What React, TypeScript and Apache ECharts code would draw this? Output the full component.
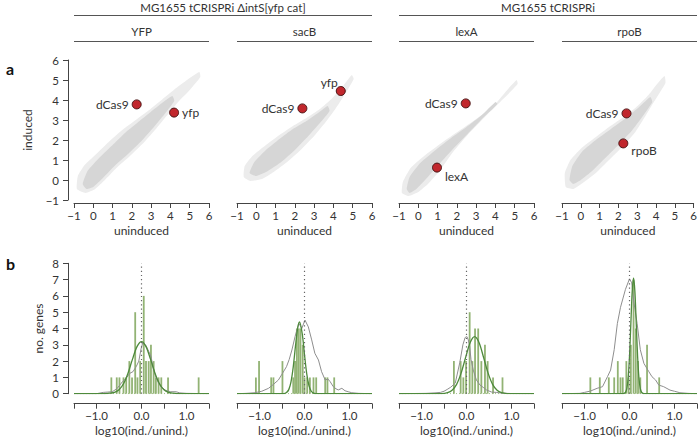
import React, { useEffect, useRef } from 'react';
import * as echarts from 'echarts';

// ---------- text ----------
const strainTitles = ['MG1655 tCRISPRi \u0394intS[yfp cat]', 'MG1655 tCRISPRi'];
const panelTitles = ['YFP', 'sacB', 'lexA', 'rpoB'];
const scatterXName = 'uninduced';
const scatterYName = 'induced';
const histXName = 'log10(ind./unind.)';
const histYName = 'no. genes';

// ---------- panel a : scatter clouds (outline of the grey point cloud, data coords) ----------
const cloudOuterYFP = [[-0.85,-0.45],[-0.8,0.2],[-0.45,0.75],[0.1,1.25],[0.8,1.9],[1.5,2.5],[2.2,3.0],[2.9,3.5],[3.6,4.05],[4.3,4.6],[5.0,5.1],[5.5,5.4],[5.55,5.15],[5.0,4.5],[4.4,3.9],[3.8,3.2],[3.2,2.5],[2.6,1.85],[1.9,1.2],[1.2,0.6],[0.6,0.0],[0.1,-0.45],[-0.4,-0.65]];
const cloudCoreYFP = [[-0.55,-0.2],[-0.3,0.45],[0.3,1.1],[1.0,1.75],[1.7,2.4],[2.4,2.95],[3.1,3.5],[3.7,3.95],[4.1,4.2],[4.2,3.95],[3.7,3.3],[3.1,2.6],[2.5,1.95],[1.8,1.3],[1.1,0.7],[0.5,0.1],[0.0,-0.35],[-0.35,-0.45]];
const cloudOuterSacB = [[-0.65,0.15],[-0.6,0.7],[-0.2,1.2],[0.5,1.75],[1.2,2.25],[1.9,2.7],[2.6,3.1],[3.3,3.55],[3.9,4.05],[4.5,4.7],[4.95,5.25],[5.05,5.05],[4.6,4.3],[4.1,3.55],[3.6,2.9],[3.0,2.2],[2.3,1.5],[1.6,0.9],[0.9,0.4],[0.3,0.05],[-0.3,-0.05]];
const cloudCoreSacB = [[-0.35,0.35],[-0.1,0.9],[0.5,1.5],[1.2,2.05],[1.9,2.55],[2.6,2.95],[3.2,3.35],[3.7,3.7],[3.8,3.45],[3.3,2.85],[2.7,2.2],[2.0,1.5],[1.3,0.9],[0.6,0.45],[0.0,0.2]];
const cloudOuterLexA = [[-0.85,-0.65],[-0.8,-0.1],[-0.4,0.6],[0.3,1.2],[1.2,1.85],[2.1,2.45],[3.0,3.05],[3.9,3.7],[4.7,4.6],[5.1,5.0],[5.15,4.8],[4.4,4.05],[3.5,3.2],[2.6,2.3],[1.8,1.4],[1.1,0.45],[0.5,-0.2],[0.0,-0.6],[-0.5,-0.8]];
const cloudCoreLexA = [[-0.6,-0.45],[-0.45,0.15],[0.1,0.85],[0.9,1.5],[1.7,2.1],[2.5,2.65],[3.3,3.25],[4.0,3.9],[4.1,3.8],[3.3,3.05],[2.5,2.25],[1.7,1.45],[1.0,0.7],[0.4,0.05],[-0.1,-0.45],[-0.45,-0.65]];
const cloudOuterRpoB = [[-0.8,-0.35],[-0.85,0.35],[-0.55,1.0],[0.1,1.65],[0.8,2.15],[1.5,2.65],[2.2,3.1],[2.9,3.6],[3.6,4.25],[4.1,4.85],[4.45,5.2],[4.5,4.85],[3.95,4.0],[3.4,3.15],[2.9,2.4],[2.2,1.65],[1.5,1.0],[0.8,0.35],[0.1,-0.15],[-0.4,-0.45]];
const cloudCoreRpoB = [[-0.6,0.0],[-0.45,0.7],[0.1,1.45],[0.8,2.0],[1.6,2.55],[2.4,3.1],[3.1,3.65],[3.7,4.15],[3.8,3.9],[3.3,3.2],[2.7,2.45],[2.0,1.75],[1.3,1.1],[0.6,0.45],[0.0,0.0],[-0.4,-0.2]];

// highlighted genes: [name, uninduced, induced]
const highlightYFP = [['dCas9', 2.25, 3.78], ['yfp', 4.19, 3.37]];
const highlightSacB = [['dCas9', 2.39, 3.58], ['yfp', 4.38, 4.45]];
const highlightLexA = [['dCas9', 2.46, 3.83], ['lexA', 0.97, 0.62]];
const highlightRpoB = [['dCas9', 2.43, 3.33], ['rpoB', 2.26, 1.83]];

// ---------- panel b : histograms ----------
const barsYFP = [[-0.67,1],[-0.55,1],[-0.49,1],[-0.40,1],[-0.34,1],[-0.27,2],[-0.21,1],[-0.14,5],[-0.09,1],[-0.03,2],[0.05,6],[0.10,2],[0.16,2],[0.21,3],[0.27,2],[0.32,1],[0.38,1],[0.44,1],[0.59,1],[1.27,1]];
const barsSacB = [[-1.08,1],[-1.01,2],[-0.74,1],[-0.69,1],[-0.49,2],[-0.25,1],[-0.21,2],[-0.17,4],[-0.13,4],[-0.09,4],[-0.04,3],[0.0,1],[0.06,1],[0.12,1],[0.20,1],[0.26,1],[0.46,1],[0.51,1],[0.66,1]];
const barsLexA = [[-0.28,2],[-0.13,2],[-0.07,1],[-0.01,2],[0.07,5],[0.13,2],[0.19,4],[0.26,4],[0.33,2],[0.41,3],[0.47,2],[0.59,1],[0.80,1]];
const barsRpoB = [[-0.87,1],[-0.66,1],[-0.46,1],[-0.34,1],[-0.26,2],[-0.20,1],[-0.15,1],[-0.07,2],[-0.02,1],[0.03,3],[0.09,7],[0.14,4],[0.19,2],[0.24,1],[0.39,3],[0.66,1]];

const fitYFP = [[-1.5,0],[-0.8,0.01],[-0.7,0.03],[-0.6,0.08],[-0.5,0.24],[-0.4,0.61],[-0.3,1.26],[-0.2,2.12],[-0.1,2.89],[0.0,3.2],[0.1,2.89],[0.2,2.12],[0.3,1.26],[0.4,0.61],[0.5,0.24],[0.6,0.08],[0.7,0.03],[0.8,0.01],[1.5,0]];
const fitSacB = [[-1.5,0],[-0.5,0],[-0.45,0.01],[-0.4,0.07],[-0.35,0.25],[-0.3,0.73],[-0.25,1.65],[-0.2,2.93],[-0.15,4.06],[-0.11,4.4],[-0.05,3.67],[0.0,2.4],[0.05,1.22],[0.1,0.49],[0.15,0.15],[0.2,0.04],[0.25,0.01],[1.5,0]];
const fitLexA = [[-1.5,0],[-0.55,0],[-0.42,0.06],[-0.32,0.21],[-0.22,0.57],[-0.12,1.26],[-0.02,2.22],[0.08,3.13],[0.18,3.5],[0.28,3.13],[0.38,2.22],[0.48,1.26],[0.58,0.57],[0.68,0.21],[0.78,0.06],[0.9,0.01],[1.5,0]];
const fitRpoB = [[-1.5,0],[-0.15,0],[-0.12,0.02],[-0.09,0.08],[-0.06,0.31],[-0.03,0.96],[0.0,2.3],[0.03,4.3],[0.06,6.27],[0.09,7.1],[0.12,6.27],[0.15,4.3],[0.18,2.3],[0.21,0.96],[0.24,0.31],[0.27,0.08],[0.30,0.02],[0.33,0],[1.5,0]];

const densYFP = [[-1.5,0],[-1.0,0.0],[-0.85,0.08],[-0.75,0.1],[-0.65,0.12],[-0.55,0.3],[-0.49,0.5],[-0.42,0.75],[-0.34,0.95],[-0.26,1.25],[-0.19,1.35],[-0.12,1.65],[-0.06,2.0],[-0.01,2.75],[0.03,3.15],[0.10,2.95],[0.16,2.6],[0.21,2.3],[0.26,1.6],[0.31,1.1],[0.36,0.75],[0.43,0.42],[0.54,0.2],[0.65,0.12],[0.77,0.12],[0.85,0.05],[1.0,0.02],[1.5,0]];
const densSacB = [[-1.5,0],[-1.3,0.02],[-1.1,0.06],[-0.95,0.15],[-0.8,0.33],[-0.7,0.55],[-0.58,0.84],[-0.5,1.2],[-0.4,1.66],[-0.34,2.1],[-0.28,2.68],[-0.21,3.5],[-0.15,4.1],[-0.12,4.3],[-0.06,4.0],[0.01,4.52],[0.085,4.1],[0.16,3.3],[0.23,2.48],[0.31,2.07],[0.38,1.35],[0.46,0.84],[0.52,0.9],[0.57,0.74],[0.64,0.43],[0.70,0.3],[0.75,0.23],[0.83,0.33],[0.9,0.18],[0.97,0.12],[1.05,0.06],[1.2,0.02],[1.5,0]];
const densLexA = [[-1.5,0],[-0.9,0.02],[-0.7,0.05],[-0.58,0.08],[-0.5,0.15],[-0.43,0.26],[-0.35,0.4],[-0.25,0.65],[-0.15,1.9],[-0.08,3.0],[-0.03,3.45],[0.01,3.5],[0.04,3.3],[0.07,2.9],[0.1,2.1],[0.15,1.45],[0.22,0.84],[0.30,0.53],[0.37,0.39],[0.45,0.22],[0.56,0.1],[0.66,0.08],[0.8,0.03],[1.0,0.01],[1.5,0]];
const densRpoB = [[-1.5,0],[-1.1,0.02],[-1.0,0.08],[-0.87,0.16],[-0.72,0.33],[-0.6,0.43],[-0.49,1.04],[-0.42,1.45],[-0.34,2.7],[-0.27,4.3],[-0.2,5.3],[-0.09,6.4],[0.0,7.05],[0.05,6.8],[0.09,5.75],[0.17,4.3],[0.24,2.7],[0.32,1.86],[0.43,1.35],[0.5,1.04],[0.58,0.84],[0.65,0.53],[0.76,0.43],[0.9,0.22],[1.0,0.15],[1.12,0.06],[1.3,0.02],[1.5,0]];

const zeroLine = [[0, 0], [0, 8]];
const histBaseline = [[-1.5, 0], [1.5, 0]];

// axis ranges
const scatterMin = -1, scatterMax = 6, scatterStep = 1;
const histXMin = -1.5, histXMax = 1.5, histXStep = 0.5;
const histYMin = 0, histYMax = 8, histYStep = 1;

const clouds = [
  [cloudOuterYFP, cloudCoreYFP],
  [cloudOuterSacB, cloudCoreSacB],
  [cloudOuterLexA, cloudCoreLexA],
  [cloudOuterRpoB, cloudCoreRpoB],
];
const highlights = [highlightYFP, highlightSacB, highlightLexA, highlightRpoB];
const bars = [barsYFP, barsSacB, barsLexA, barsRpoB];
const fits = [fitYFP, fitSacB, fitLexA, fitRpoB];
const dens = [densYFP, densSacB, densLexA, densRpoB];

// ---------- layout / style ----------
const FONT = 'Lato';
const colLeft = [74, 237, 399, 562];
const colW = 135;
const scTop = 60, scH = 140;
const hiTop = 263.3, hiH = 130.4;
const AX = '#444';
const TXT = '#333';
const labelStyles: any[][] = [
  [{ position: 'left', distance: 3 }, { position: 'right', distance: 3 }],
  [{ position: 'left', distance: 3 }, { position: 'left', distance: 1, offset: [3, -9] }],
  [{ position: 'left', distance: 3 }, { position: 'right', distance: 3, offset: [0, 9] }],
  [{ position: 'left', distance: 3 }, { position: 'right', distance: 3, offset: [0, 7] }],
];

const minus = (s: string) => s.replace('-', '\u2212');

export default function App() {
  const ref = useRef<HTMLDivElement>(null);
  useEffect(() => {
    if (!ref.current) return;
    const chart = echarts.init(ref.current, undefined, { renderer: 'svg' });

    const grid: any[] = [];
    const xAxis: any[] = [];
    const yAxis: any[] = [];
    const series: any[] = [];

    const axisCommon = {
      axisLine: { show: true, onZero: false, lineStyle: { color: AX, width: 1 } },
      axisTick: { show: true, length: 5, lineStyle: { color: AX, width: 1 } },
      splitLine: { show: false },
      nameTextStyle: { fontFamily: FONT, fontSize: 12, color: TXT },
    };
    const tickFont = { fontFamily: FONT, fontSize: 11.5, color: TXT };

    for (let i = 0; i < 4; i++) {
      grid.push({ left: colLeft[i], top: scTop, width: colW, height: scH });
      xAxis.push({
        ...axisCommon,
        gridIndex: i, type: 'value', min: scatterMin, max: scatterMax, interval: scatterStep, offset: 3,
        axisLabel: { margin: 6, ...tickFont, formatter: (v: number) => minus(String(v)) },
        name: scatterXName, nameLocation: 'middle', nameGap: 21,
      });
      yAxis.push({
        ...axisCommon,
        show: i === 0,
        gridIndex: i, type: 'value', min: scatterMin, max: scatterMax, interval: scatterStep, offset: 6,
        axisLabel: { margin: 9, ...tickFont, formatter: (v: number) => minus(String(v)) },
        name: i === 0 ? scatterYName : '', nameLocation: 'middle', nameGap: 35,
      });
    }
    for (let i = 0; i < 4; i++) {
      const g = 4 + i;
      grid.push({ left: colLeft[i], top: hiTop, width: colW, height: hiH });
      xAxis.push({
        ...axisCommon,
        gridIndex: g, type: 'value', min: histXMin, max: histXMax, interval: histXStep, offset: 10,
        axisLabel: {
          margin: 6, ...tickFont, showMinLabel: true, showMaxLabel: true,
          formatter: (v: number) => (Math.abs(v - Math.round(v)) < 1e-9 ? minus(v.toFixed(1)) : ''),
        },
        name: histXName, nameLocation: 'middle', nameGap: 21,
      });
      yAxis.push({
        ...axisCommon,
        show: i === 0,
        gridIndex: g, type: 'value', min: histYMin, max: histYMax, interval: histYStep, offset: 6,
        axisLabel: { margin: 9, ...tickFont },
        name: i === 0 ? histYName : '', nameLocation: 'middle', nameGap: 24,
      });
    }

    const polySeries = (pts: number[][], idx: number, fill: string, z: number) => ({
      type: 'custom', xAxisIndex: idx, yAxisIndex: idx, silent: true, z, clip: true,
      data: [[0, 0]],
      renderItem: (_p: any, api: any) => ({
        type: 'polygon',
        shape: { points: pts.map((p) => api.coord(p)), smooth: 0.15 },
        style: { fill },
      }),
    });

    for (let i = 0; i < 4; i++) {
      series.push(polySeries(clouds[i][0], i, '#ececec', 1));
      series.push(polySeries(clouds[i][1], i, '#d6d6d6', 2));
      series.push({
        type: 'scatter', xAxisIndex: i, yAxisIndex: i, z: 5,
        symbolSize: 9,
        itemStyle: { color: '#c1272d', borderColor: '#4a1414', borderWidth: 1, opacity: 1 },
        data: highlights[i].map((h, k) => ({
          name: h[0], value: [h[1], h[2]],
          label: { show: true, formatter: '{b}', fontFamily: FONT, fontSize: 12, color: TXT, ...labelStyles[i][k] },
        })),
      });
    }
    for (let i = 0; i < 4; i++) {
      const g = 4 + i;
      series.push({
        type: 'line', xAxisIndex: g, yAxisIndex: g, data: histBaseline, symbol: 'none', z: 1,
        lineStyle: { color: '#a9c893', width: 1.2, type: [1, 2] },
      });
      series.push({
        type: 'bar', xAxisIndex: g, yAxisIndex: g, data: bars[i], barWidth: 1.8, z: 2,
        itemStyle: { color: '#92b374' },
      });
      series.push({
        type: 'line', xAxisIndex: g, yAxisIndex: g, data: dens[i], symbol: 'none', z: 3,
        lineStyle: { color: '#8e8e8e', width: 1 },
      });
      series.push({
        type: 'line', xAxisIndex: g, yAxisIndex: g, data: fits[i], symbol: 'none', smooth: 0.3, z: 4,
        lineStyle: { color: '#4e8a3c', width: 1.3 },
      });
      series.push({
        type: 'line', xAxisIndex: g, yAxisIndex: g, data: zeroLine, symbol: 'none', z: 5,
        lineStyle: { color: '#666', width: 1.2, type: [1.2, 3] },
      });
    }

    const graphic: any[] = [];
    const hLine = (x1: number, x2: number, y: number) => ({
      type: 'line', shape: { x1, y1: y, x2, y2: y }, style: { stroke: '#555', lineWidth: 1 },
    });
    const cText = (text: string, x: number, y: number, size: number) => ({
      type: 'text', x, y,
      style: { text, fill: TXT, font: `${size}px "${FONT}"`, textAlign: 'center', textVerticalAlign: 'middle' },
    });
    const strainSpans = [[0, 1], [2, 3]];
    strainSpans.forEach((s, k) => {
      const x1 = colLeft[s[0]], x2 = colLeft[s[1]] + colW;
      graphic.push(cText(strainTitles[k], (x1 + x2) / 2, 7.5, 11.5));
      graphic.push(hLine(x1, x2, 15.5));
    });
    panelTitles.forEach((t, i) => {
      graphic.push(cText(t, colLeft[i] + colW / 2, 31.5, 11.5));
      graphic.push(hLine(colLeft[i], colLeft[i] + colW, 41.5));
    });
    graphic.push({ type: 'text', x: 6, y: 68, style: { text: 'a', fill: '#111', font: `bold 16px "${FONT}"`, textVerticalAlign: 'middle' } });
    graphic.push({ type: 'text', x: 6, y: 263, style: { text: 'b', fill: '#111', font: `bold 16px "${FONT}"`, textVerticalAlign: 'middle' } });

    chart.setOption({
      animation: false,
      backgroundColor: '#ffffff',
      grid, xAxis, yAxis, series, graphic,
    });
    return () => chart.dispose();
  }, []);
  return <div ref={ref} style={{ position: 'fixed', left: 0, top: 0, width: 700, height: 440 }} />;
}
